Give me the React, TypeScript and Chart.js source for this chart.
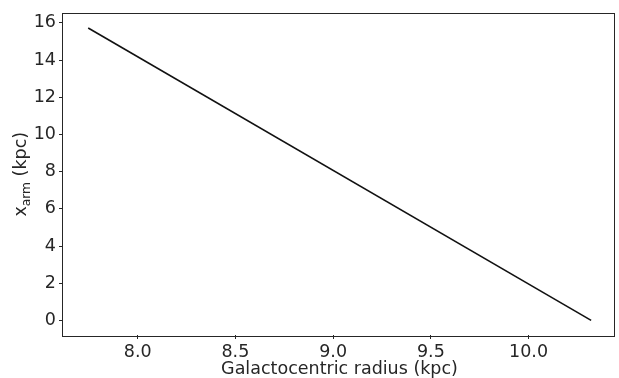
import React, { useEffect, useRef } from "react";
import { Chart, registerables } from "chart.js";

Chart.register(...registerables);

const radius: number[] = [7.747, 10.32];
const xArm: number[] = [15.73, 0.0];
const xLabel = "Galactocentric radius (kpc)";
const yLabelMain = "x";
const yLabelSub = "arm";
const yLabelTail = " (kpc)";

const FONT = "'DejaVu Sans', sans-serif";
const TEXT = "#262626";

export default function App() {
  const ref = useRef<HTMLCanvasElement | null>(null);
  useEffect(() => {
    if (!ref.current) return;
    const frame = {
      id: "frame",
      afterDraw(chart: any) {
        const { ctx, chartArea } = chart;
        const { left, right, top, bottom } = chartArea;
        ctx.save();
        ctx.strokeStyle = TEXT;
        ctx.lineWidth = 1;
        ctx.strokeRect(Math.round(left) - 0.5, Math.round(top) - 0.5, Math.round(right - left) + 1, Math.round(bottom - top) + 1);
        ctx.fillStyle = TEXT;
        ctx.font = `17.5px ${FONT}`;
        ctx.textAlign = "center";
        ctx.textBaseline = "alphabetic";
        ctx.fillText(xLabel, (left + right) / 2 + 1, 373.5);
        const cy = (top + bottom) / 2;
        ctx.translate(26, cy);
        ctx.rotate(-Math.PI / 2);
        ctx.textAlign = "left";
        ctx.font = `17.5px ${FONT}`;
        const w1 = ctx.measureText(yLabelMain).width;
        const w3 = ctx.measureText(yLabelTail).width;
        ctx.font = `12.25px ${FONT}`;
        const w2 = ctx.measureText(yLabelSub).width;
        let x = -(w1 + w2 + w3) / 2;
        ctx.font = `17.5px ${FONT}`;
        ctx.fillText(yLabelMain, x, 0);
        x += w1;
        ctx.font = `12.25px ${FONT}`;
        ctx.fillText(yLabelSub, x, 3.5);
        x += w2;
        ctx.font = `17.5px ${FONT}`;
        ctx.fillText(yLabelTail, x, 0);
        ctx.restore();
      },
    };
    const chart = new Chart(ref.current, {
      type: "line",
      data: {
        datasets: [
          {
            data: radius.map((r, i) => ({ x: r, y: xArm[i] })),
            borderColor: "#111111",
            borderWidth: 1.6,
            pointRadius: 0,
            fill: false,
            tension: 0,
          },
        ],
      },
      options: {
        animation: false,
        responsive: false,
        layout: { padding: { top: 11, right: 5, left: 0, bottom: 0 } },
        plugins: { legend: { display: false }, tooltip: { enabled: false } },
        scales: {
          x: {
            type: "linear",
            min: 7.618,
            max: 10.437,
            afterFit: (s: any) => {
              s.height = 43;
            },
            border: { display: false },
            grid: { drawOnChartArea: false, drawTicks: true, tickLength: 4, color: TEXT },
            ticks: {
              stepSize: 0.5,
              includeBounds: false,
              padding: 3,
              color: TEXT,
              font: { family: FONT, size: 17.5 },
              callback: (v: any) => Number(v).toFixed(1),
              maxRotation: 0,
            },
          },
          y: {
            type: "linear",
            min: -0.784,
            max: 16.507,
            afterFit: (s: any) => {
              s.width = 63;
            },
            border: { display: false },
            grid: { drawOnChartArea: false, drawTicks: true, tickLength: 4, color: TEXT },
            ticks: {
              stepSize: 2,
              includeBounds: false,
              padding: 3,
              color: TEXT,
              font: { family: FONT, size: 17.5 },
              callback: (v: any) => String(Math.round(Number(v))),
            },
          },
        },
      },
      plugins: [frame],
    } as any);
    return () => chart.destroy();
  }, []);
  return (
    <div style={{ position: "fixed", left: 0, top: 0, width: 619, height: 378, background: "#fff" }}>
      <canvas ref={ref} width={619} height={378} />
    </div>
  );
}
